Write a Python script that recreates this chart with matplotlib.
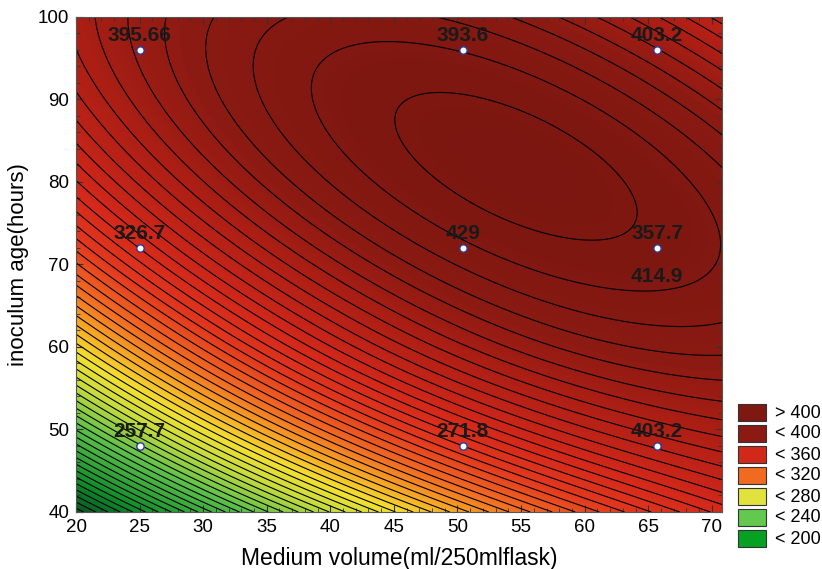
import numpy as np
import matplotlib.pyplot as plt
from matplotlib.colors import LinearSegmentedColormap
from matplotlib.patches import Rectangle
from matplotlib.ticker import MultipleLocator

plt.rcParams['font.family'] = ['Liberation Sans', 'DejaVu Sans']

# fitted response surface: peak value and quadratic coefficients
peak = 422.7
x0, y0 = 54.6, 81.9
qa, qb, qc = 0.049, 0.0555, 0.0654
# extra sag of the surface along the low-age edge
sag = 0.0007

# design points and observed responses
pt_x = [25, 50.4, 65.7, 25, 50.4, 65.7, 25, 50.4, 65.7]
pt_y = [96, 96, 96, 72, 72, 72, 48, 48, 48]
pt_lab = ["395.66", "393.6", "403.2", "326.7", "429", "357.7", "257.7", "271.8", "403.2"]
extra_lab = "414.9"

legend_labels = ["> 400", "< 400", "< 360", "< 320", "< 280", "< 240", "< 200"]
legend_colors = ["#7e1810", "#8a1a12", "#d2281a", "#f06a22", "#e2e23e", "#62c84e", "#06a022"]

xv = np.linspace(20, 70.8, 300)
yv = np.linspace(40, 100, 300)
X, Y = np.meshgrid(xv, yv)
dx, dy = X - x0, Y - y0
Z = peak - (qa * dx**2 + qb * dy**2 + qc * dx * dy)
Z -= sag * (X - 20) * (70.8 - X) * np.clip(62 - Y, 0, None) ** 2 / 22

cmap = LinearSegmentedColormap.from_list("surf", [
    (0.00, "#0a4d22"), (0.11, "#0e8a2a"), (0.27, "#5cc04a"),
    (0.38, "#c8dc3c"), (0.45, "#f2e030"), (0.52, "#f6a824"),
    (0.59, "#f06a22"), (0.67, "#e2381e"), (0.74, "#d4281a"),
    (0.85, "#ac1e14"), (0.92, "#8a1a12"), (1.00, "#7a1610")])

fig = plt.figure(figsize=(8.22, 5.69), dpi=100)
ax = fig.add_axes([76 / 822, 57 / 569, 646 / 822, 495 / 569])

ax.contourf(X, Y, Z, levels=np.linspace(170, 425, 256), cmap=cmap, vmin=170, vmax=425)
ax.contour(X, Y, Z, levels=np.arange(175, 425, 5), colors="black", linewidths=0.8)

ax.scatter(pt_x, pt_y, s=28, facecolor="white", edgecolor="#2a3aa0", linewidth=1.0, zorder=5)
for x, y, t in zip(pt_x, pt_y, pt_lab):
    ax.text(x, y + 1.8, t, ha="center", va="center", fontsize=15,
            fontweight="bold", color="#1a1a1a", zorder=6)
ax.text(pt_x[5], pt_y[5] - 3.4, extra_lab, ha="center", va="center", fontsize=15,
        fontweight="bold", color="#1a1a1a", zorder=6)

ax.set_xlim(20, 70.8)
ax.set_ylim(40, 100)
ax.xaxis.set_major_locator(MultipleLocator(5))
ax.xaxis.set_minor_locator(MultipleLocator(1))
ax.yaxis.set_major_locator(MultipleLocator(10))
ax.yaxis.set_minor_locator(MultipleLocator(2))
ax.tick_params(which="both", direction="in", top=True, right=True, labelsize=13.5, color="#333333")
ax.tick_params(which="major", length=5, pad=5)
ax.tick_params(which="minor", length=3)
for s in ax.spines.values():
    s.set_color("#555555")
ax.set_xlabel("Medium volume(ml/250mlflask)", fontsize=16.5, labelpad=8)
ax.set_ylabel("inoculum age(hours)", fontsize=16, labelpad=6)

# legend boxes drawn in figure pixels
for i, (lab, col) in enumerate(zip(legend_labels, legend_colors)):
    ytop = 404 + i * 21
    fig.patches.append(Rectangle((738 / 822, 1 - (ytop + 17) / 569), 28 / 822, 17 / 569,
                                 transform=fig.transFigure, facecolor=col,
                                 edgecolor="#333333", linewidth=0.8))
    fig.text(775 / 822, 1 - (ytop + 9) / 569, lab, fontsize=13, va="center", ha="left")

fig.savefig("out.png", dpi=100)
